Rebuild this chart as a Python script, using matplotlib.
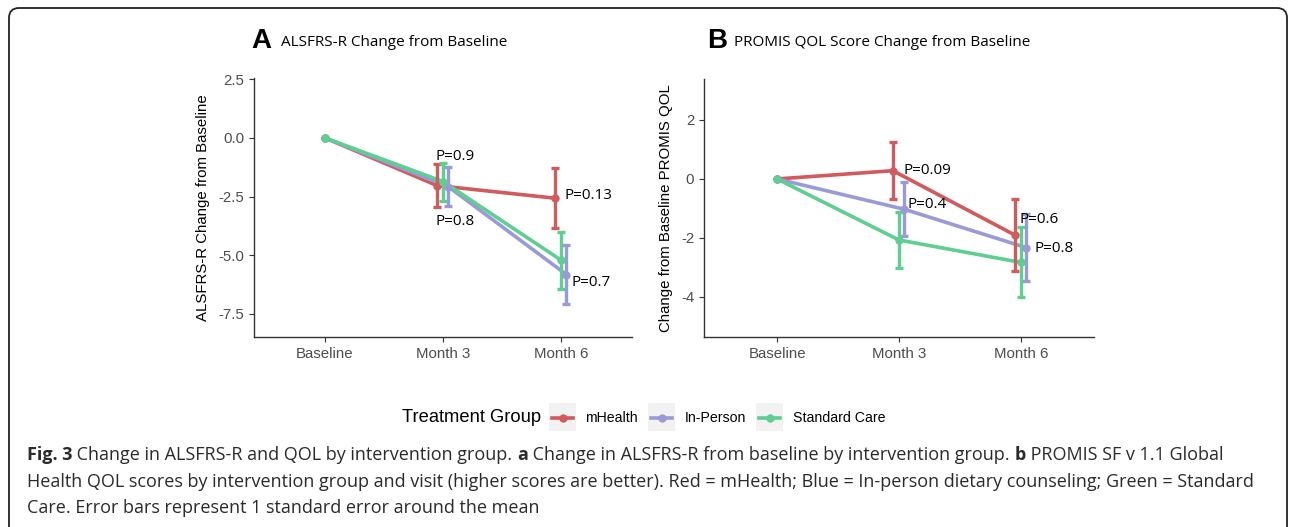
import numpy as np
import matplotlib.pyplot as plt
from matplotlib.patches import FancyBboxPatch, Rectangle
from matplotlib.lines import Line2D

# ================================================
# Data
# ================================================
visits = ['Baseline', 'Month 3', 'Month 6']
groups = ['mHealth', 'In-Person', 'Standard Care']
colors = ['#D05A5C', '#9A9AD8', '#5DCF90']
offsets = [-0.05, 0.045, 0.0]  # dodge for month 3 / month 6

# Panel A: ALSFRS-R change (mean, standard error)
alsfrs_mean = {
    'mHealth': [0.0, -2.03, -2.57],
    'In-Person': [0.0, -2.08, -5.82],
    'Standard Care': [0.0, -1.86, -5.21],
}
alsfrs_se = {
    'mHealth': [0.0, 0.90, 1.28],
    'In-Person': [0.0, 0.82, 1.24],
    'Standard Care': [0.0, 0.81, 1.22],
}
alsfrs_p = ['P=0.9', 'P=0.8', 'P=0.13', 'P=0.7']
alsfrs_p_xy = [(1.94, -0.81), (1.94, -3.57), (3.03, -2.47), (3.09, -6.17)]

# Panel B: PROMIS QOL change (mean, standard error)
qol_mean = {
    'mHealth': [0.0, 0.28, -1.90],
    'In-Person': [0.0, -1.03, -2.33],
    'Standard Care': [0.0, -2.07, -2.83],
}
qol_se = {
    'mHealth': [0.0, 0.96, 1.22],
    'In-Person': [0.0, 0.92, 1.14],
    'Standard Care': [0.0, 0.95, 1.19],
}
qol_p = ['P=0.09', 'P=0.4', 'P=0.6', 'P=0.8']
qol_p_xy = [(2.04, 0.27), (2.07, -0.88), (2.99, -1.39), (3.11, -2.37)]

caption_lines = [
    [('Fig. 3', True), (' Change in ALSFRS-R and QOL by intervention group. ', False), ('a', True),
     (' Change in ALSFRS-R from baseline by intervention group. ', False), ('b', True),
     (' PROMIS SF v 1.1 Global', False)],
    [('Health QOL scores by intervention group and visit (higher scores are better). Red = mHealth; '
      'Blue = In-person dietary counseling; Green = Standard', False)],
    [('Care. Error bars represent 1 standard error around the mean', False)],
]

plt.rcParams['font.family'] = 'Liberation Sans'

W, H = 1290, 527
fig = plt.figure(figsize=(W / 100, H / 100), dpi=100)


def px(x, y):
    return x / W, 1 - y / H


def panel(rect, means, ses, ylim, yticks, ylabel, ptexts, pxy):
    ax = fig.add_axes(rect)
    x = np.arange(1, 4)
    for g, c, off in zip(groups, colors, offsets):
        xs = x + np.array([0, off, off])
        ax.plot(xs, means[g], color=c, lw=2.6, zorder=2)
    for g, c, off in zip(groups, colors, offsets):
        xs = x + np.array([0, off, off])
        ax.errorbar(xs[1:], means[g][1:], yerr=ses[g][1:], fmt='none', ecolor=c,
                    elinewidth=2.4, capsize=2.8, capthick=2.4, zorder=3)
        ax.plot(xs, means[g], 'o', color=c, ms=5, zorder=4)
    for t, (tx, ty) in zip(ptexts, pxy):
        ax.text(tx, ty, t, fontsize=11, family='Open Sans', va='center', ha='left', zorder=5)
    ax.set_xlim(0.4, 3.6)
    ax.set_ylim(*ylim)
    ax.set_xticks(x)
    ax.set_xticklabels(visits)
    ax.set_yticks(yticks)
    ax.set_ylabel(ylabel, fontsize=10.8, labelpad=6)
    for s in ['top', 'right']:
        ax.spines[s].set_visible(False)
    for s in ['left', 'bottom']:
        ax.spines[s].set_color('#333333')
        ax.spines[s].set_linewidth(1.0)
    ax.tick_params(colors='#333333', labelcolor='#4D4D4D', labelsize=10.8, length=3.5)
    ax.patch.set_alpha(0)
    return ax


axA = panel([254 / W, 190 / H, 378 / W, 259 / H], alsfrs_mean, alsfrs_se, (-8.48, 2.55),
            [2.5, 0.0, -2.5, -5.0, -7.5], 'ALSFRS-R Change from Baseline', alsfrs_p, alsfrs_p_xy)
axA.set_yticklabels(['2.5', '0.0', '-2.5', '-5.0', '-7.5'])
axB = panel([704 / W, 190 / H, 390 / W, 258 / H], qol_mean, qol_se, (-5.36, 3.39),
            [2, 0, -2, -4], 'Change from Baseline PROMIS QOL', qol_p, qol_p_xy)
axB.set_yticklabels(['2', '0', '-2', '-4'])

# panel titles
fig.text(*px(251, 41), 'A', fontsize=20, fontweight='bold', va='center', ha='left')
fig.text(*px(281, 43), 'ALSFRS-R Change from Baseline', fontsize=11, family='Open Sans',
         va='center', ha='left')
fig.text(*px(707, 41), 'B', fontsize=20, fontweight='bold', va='center', ha='left')
fig.text(*px(734, 43), 'PROMIS QOL Score Change from Baseline', fontsize=11, family='Open Sans',
         va='center', ha='left')

# legend
fig.text(*px(402, 418), 'Treatment Group', fontsize=13.2, va='center', ha='left')
key_x = [549, 648, 756]
lab_x = [585, 685, 793]
for g, c, kx, lx in zip(groups, colors, key_x, lab_x):
    fig.add_artist(Rectangle(px(kx, 431), 27 / W, 28 / H, transform=fig.transFigure,
                             color='#F2F2F2', lw=0))
    fig.add_artist(Line2D([(kx + 3) / W, (kx + 24) / W], [1 - 418 / H] * 2, color=c, lw=2.6,
                          transform=fig.transFigure))
    fig.add_artist(Line2D([(kx + 13.5) / W], [1 - 418 / H], marker='o', ms=5, color=c,
                          transform=fig.transFigure))
    fig.text(*px(lx, 418), g, fontsize=10.2, va='center', ha='left')

# caption, bold/regular pieces placed one after another
fig.canvas.draw()
renderer = fig.canvas.get_renderer()
cap_size = 13.0
line_y = [455, 482, 508]
for line, y0 in zip(caption_lines, line_y):
    x0 = 27
    for txt, bold in line:
        t = fig.text(*px(x0, y0), txt, fontsize=cap_size, family='Open Sans', va='center',
                     ha='left', fontweight='bold' if bold else 'normal', color='#2A2A2A')
        x0 += t.get_window_extent(renderer).width

# rounded frame
frame = FancyBboxPatch((9, -30), 1278, 519 + 30, boxstyle='round,pad=0,rounding_size=10',
                       transform=None, fill=False, ec='#222222', lw=1.3)
fig.add_artist(frame)

fig.savefig('out.png', dpi=100)
